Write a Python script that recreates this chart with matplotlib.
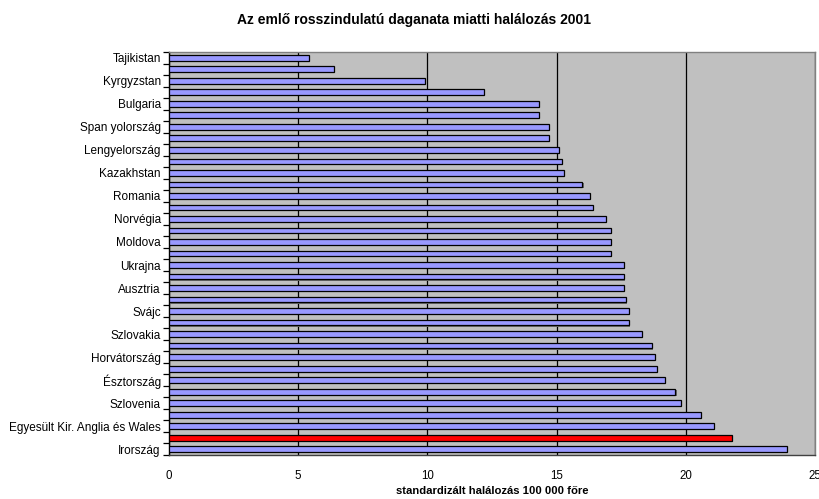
import matplotlib
matplotlib.use("Agg")
import matplotlib.pyplot as plt
import matplotlib.patheffects as pe
import numpy as np

plt.rcParams['font.family'] = ['Liberation Sans', 'DejaVu Sans']

# Breast cancer mortality 2001, standardised per 100 000 (top to bottom)
labels = [
    "Tajikistan", "", "Kyrgyzstan", "", "Bulgaria", "", "Span yolország", "",
    "Lengyelország", "", "Kazakhstan", "", "Romania", "", "Norvégia", "",
    "Moldova", "", "Ukrajna", "", "Ausztria", "", "Svájc", "", "Szlovakia", "",
    "Horvátország", "", "Észtország", "", "Szlovenia", "",
    "Egyesült Kir. Anglia és Wales", "", "Irország",
]
values = [
    5.4, 6.4, 9.9, 12.2, 14.3, 14.3, 14.7, 14.7, 15.1, 15.2, 15.3, 16.0,
    16.3, 16.4, 16.9, 17.1, 17.1, 17.1, 17.6, 17.6, 17.6, 17.7, 17.8, 17.8,
    18.3, 18.7, 18.8, 18.9, 19.2, 19.6, 19.8, 20.6, 21.1, 21.8, 23.9,
]
highlight_index = 33  # Magyarország

n = len(values)
colors = ['#9999FF'] * n
colors[highlight_index] = '#FF0000'

fig = plt.figure(figsize=(8.2, 4.99), dpi=100)
ax = fig.add_axes([169 / 820, 1 - 455 / 499, 646 / 820, 403 / 499])
ax.set_facecolor('#C0C0C0')

y = np.arange(n)
bars = ax.barh(y, values, height=0.5, color=colors, edgecolor='black',
               linewidth=0.9, zorder=3)
for b in bars:
    b.set_path_effects([
        pe.SimplePatchShadow(offset=(0.8, -0.8), shadow_rgbFace='#6A6A6A', alpha=1.0),
        pe.Normal(),
    ])

ax.set_xlim(0, 25)
ax.set_ylim(n - 0.5, -0.5)
ax.set_xticks([0, 5, 10, 15, 20, 25])
ax.set_xticklabels(['0', '5', '10', '15', '20', '25'], fontsize=8.3)
ax.tick_params(axis='x', length=0, pad=11)

# category ticks at boundaries, labels on every other bar
ax.set_yticks(np.arange(-0.5, n, 1.0))
ax.set_yticklabels([])
ax.set_yticks(y, minor=True)
ax.set_yticklabels(labels, minor=True, fontsize=8.5)
ax.tick_params(axis='y', which='major', length=4, width=0.9, direction='out', color='black')
ax.tick_params(axis='y', which='minor', length=0, pad=6)

ax.grid(axis='x', color='black', linewidth=0.9, zorder=1)
ax.set_axisbelow(True)

for side in ('top', 'right'):
    ax.spines[side].set_color('#808080')
    ax.spines[side].set_linewidth(1.0)
ax.spines['left'].set_color('black')
ax.spines['left'].set_linewidth(1.0)
ax.spines['bottom'].set_color('#404040')
ax.spines['bottom'].set_linewidth(1.0)

fig.text(414 / 820, 1 - 20 / 499, 'Az emlő rosszindulatú daganata miatti halálozás 2001',
         ha='center', va='center', fontsize=10, fontweight='bold')
ax.set_xlabel('standardizált halálozás 100 000 főre', fontsize=8.1,
              fontweight='bold', labelpad=3)

fig.savefig('out.png', dpi=100)
